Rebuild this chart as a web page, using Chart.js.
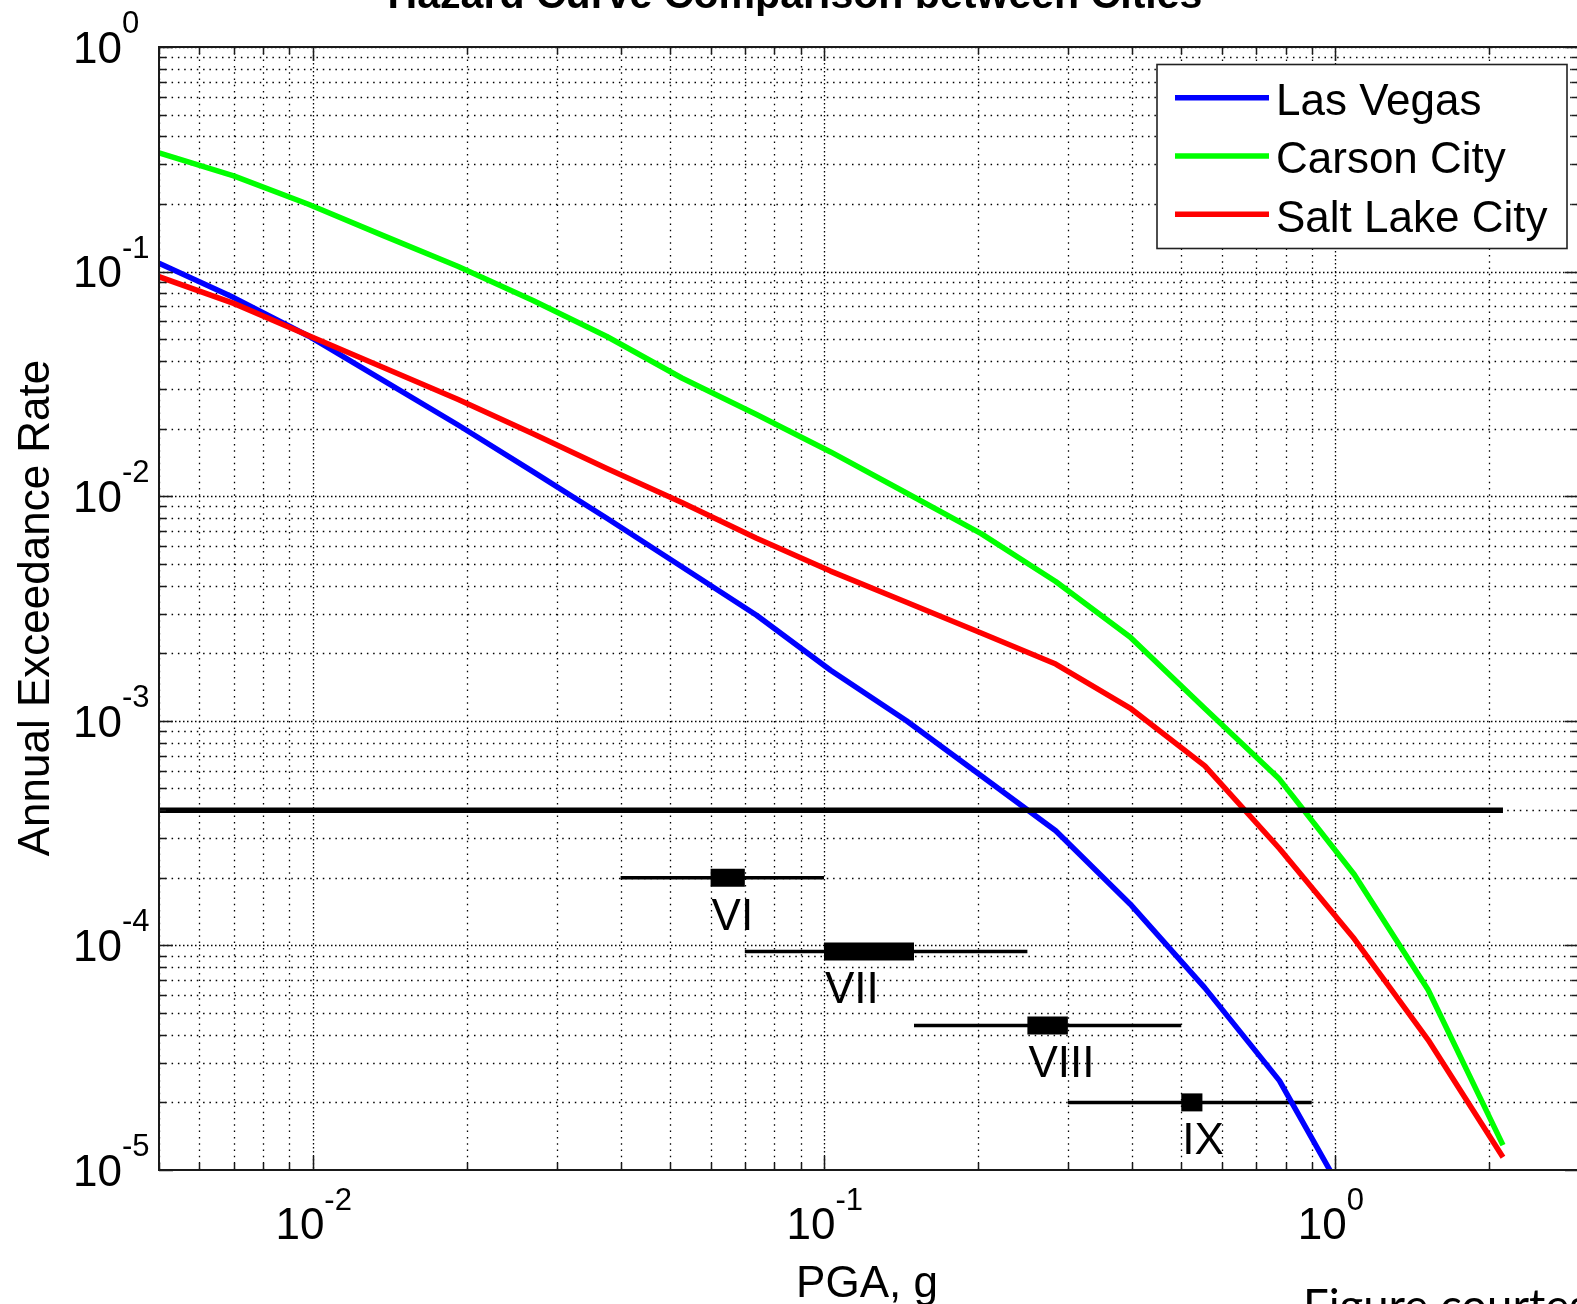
<!DOCTYPE html>
<html>
<head>
<meta charset="utf-8">
<script src="https://cdn.jsdelivr.net/npm/chart.js@4.4.1/dist/chart.umd.min.js"></script>
<style>
html,body{margin:0;padding:0;background:#fff;overflow:hidden;width:1577px;height:1304px}
#wrap{position:absolute;left:0;top:0;width:1600px;height:1304px}
canvas{display:block}
</style>
</head>
<body>
<div id="wrap"><canvas id="c" width="1600" height="1304"></canvas></div>
<script>
// ---------- texts ----------
const titleText = 'Hazard Curve Comparison between Cities';
const xAxisTitle = 'PGA, g';
const yAxisTitle = 'Annual Exceedance Rate';
const creditText = 'Figure courtesy';
const seriesNames = ['Las Vegas', 'Carson City', 'Salt Lake City'];
const seriesColors = ['#0000ff', '#00ff00', '#ff0000'];

// ---------- data ----------
const pga = [0.005, 0.007, 0.0098, 0.0137, 0.0192, 0.0269, 0.0376, 0.0527, 0.0738, 0.103,
             0.145, 0.203, 0.284, 0.397, 0.556, 0.778, 1.09, 1.52, 2.13];
const lasVegas = [0.109, 0.0766, 0.0517, 0.0329, 0.0208, 0.0129, 0.00798, 0.00485, 0.00295, 0.00168,
                  0.00100, 5.69e-4, 3.24e-4, 1.53e-4, 6.47e-5, 2.5e-5, 6.4e-6, null, null];
const carsonCity = [0.338, 0.267, 0.1995, 0.145, 0.1057, 0.0745, 0.0514, 0.0336, 0.0231, 0.01574,
                    0.01033, 0.00681, 0.00417, 0.00236, 0.001135, 5.5e-4, 2.07e-4, 6.35e-5, 1.29e-5];
const saltLakeCity = [0.0949, 0.0722, 0.0519, 0.0375, 0.0270, 0.0190, 0.01327, 0.00938, 0.0065, 0.00464,
                      0.00337, 0.00246, 0.00179, 0.00114, 6.3e-4, 2.7e-4, 1.07e-4, 3.8e-5, 1.14e-5];

const refRate = 4e-4;
const refRange = [0.005, 2.13];

const mmiLabels = ['VI', 'VII', 'VIII', 'IX'];
const mmiRate = [2e-4, 9.4e-5, 4.4e-5, 2e-5];
const mmiRangeLo = [0.04, 0.07, 0.15, 0.3];
const mmiRangeHi = [0.1, 0.25, 0.5, 0.9];
const mmiCoreLo = [0.06, 0.1, 0.25, 0.5];
const mmiCoreHi = [0.07, 0.15, 0.3, 0.55];

const xMin = 0.005, xMax = 3;
const yMin = 1e-5, yMax = 1;
const xTickExps = [-2, -1, 0];
const yTickExps = [0, -1, -2, -3, -4, -5];

// ---------- helpers ----------
function pts(xs, ys) {
  const out = [];
  for (let i = 0; i < xs.length; i++) if (ys[i] !== null) out.push({x: xs[i], y: ys[i]});
  return out;
}
function logGrid(min, max) {
  const vals = [];
  for (let e = -7; e <= 2; e++) {
    for (let k = 1; k <= 9; k++) {
      const v = k * Math.pow(10, e);
      if (v >= min * 0.99999 && v <= max * 1.00001) vals.push({v: v, major: k === 1});
    }
  }
  return vals;
}
const FONT = '"Liberation Sans", Arial, Helvetica, sans-serif';

const datasets = [];
datasets.push({
  label: 'ref', data: [{x: refRange[0], y: refRate}, {x: refRange[1], y: refRate}],
  borderColor: '#000', borderWidth: 5.5, borderCapStyle: 'butt', order: 0, clip: 0
});
const curveData = [lasVegas, carsonCity, saltLakeCity];
for (let s = 0; s < 3; s++) {
  datasets.push({
    label: seriesNames[s], data: pts(pga, curveData[s]),
    borderColor: seriesColors[s], borderWidth: 5.5, borderJoinStyle: 'round',
    order: 1 + (2 - s) * 0.1, clip: 0
  });
}
for (let i = 0; i < mmiLabels.length; i++) {
  datasets.push({
    label: mmiLabels[i] + ' range', data: [{x: mmiRangeLo[i], y: mmiRate[i]}, {x: mmiRangeHi[i], y: mmiRate[i]}],
    borderColor: '#000', borderWidth: 3.5, borderCapStyle: 'butt', order: 3, clip: 0
  });
  datasets.push({
    label: mmiLabels[i] + ' core', data: [{x: mmiCoreLo[i], y: mmiRate[i]}, {x: mmiCoreHi[i], y: mmiRate[i]}],
    borderColor: '#000', borderWidth: 18, borderCapStyle: 'butt', order: 2.5, clip: 0
  });
}

const matlabPlugin = {
  id: 'matlabLook',
  beforeDatasetsDraw(chart) {
    const {ctx, chartArea: ca, scales: {x: xs, y: ys}} = chart;
    ctx.save();
    ctx.beginPath();
    ctx.rect(ca.left, ca.top, ca.right - ca.left, ca.bottom - ca.top);
    ctx.clip();
    ctx.strokeStyle = '#000';
    ctx.lineWidth = 1.3;
    for (const t of logGrid(xMin, xMax)) {
      const p = Math.round(xs.getPixelForValue(t.v)) + 0.5;
      ctx.setLineDash(t.major ? [1.5, 2.5] : [1.5, 4.8]);
      ctx.beginPath(); ctx.moveTo(p, ca.top); ctx.lineTo(p, ca.bottom); ctx.stroke();
    }
    for (const t of logGrid(yMin, yMax)) {
      const p = Math.round(ys.getPixelForValue(t.v)) + 0.5;
      ctx.setLineDash(t.major ? [1.5, 2.5] : [1.5, 4.8]);
      ctx.beginPath(); ctx.moveTo(ca.left, p); ctx.lineTo(ca.right, p); ctx.stroke();
    }
    ctx.restore();
  },
  afterDatasetsDraw(chart) {
    const {ctx, chartArea: ca, scales: {x: xs, y: ys}} = chart;
    ctx.save();
    // MMI labels
    ctx.fillStyle = '#000';
    ctx.font = '44px ' + FONT;
    ctx.textAlign = 'left';
    ctx.textBaseline = 'alphabetic';
    for (let i = 0; i < mmiLabels.length; i++) {
      const px = xs.getPixelForValue(mmiCoreLo[i]);
      const py = ys.getPixelForValue(mmiRate[i]);
      ctx.fillText(mmiLabels[i], px + 1, py + 52);
    }
    // legend
    const lg = {l: 1157, t: 64.5, r: 1567, b: 248.5};
    ctx.fillStyle = '#fff';
    ctx.fillRect(lg.l, lg.t, lg.r - lg.l, lg.b - lg.t);
    ctx.strokeStyle = '#222';
    ctx.lineWidth = 1.6;
    ctx.setLineDash([]);
    ctx.strokeRect(lg.l, lg.t, lg.r - lg.l, lg.b - lg.t);
    const rowY = [97.7, 156, 214.3];
    for (let s = 0; s < 3; s++) {
      ctx.strokeStyle = seriesColors[s];
      ctx.lineWidth = 5.5;
      ctx.lineCap = 'butt';
      ctx.beginPath(); ctx.moveTo(1175, rowY[s]); ctx.lineTo(1269, rowY[s]); ctx.stroke();
      ctx.fillStyle = '#000';
      ctx.font = '44px ' + FONT;
      ctx.fillText(seriesNames[s], 1276, rowY[s] + 17.3);
    }
    // axes box
    ctx.strokeStyle = '#1a1a1a';
    ctx.lineWidth = 2;
    ctx.strokeRect(ca.left, ca.top, ca.right - ca.left, ca.bottom - ca.top);
    // inward ticks
    ctx.lineWidth = 1.5;
    for (const t of logGrid(xMin, xMax)) {
      const p = Math.round(xs.getPixelForValue(t.v)) + 0.5;
      const L = t.major ? 14 : 7;
      ctx.beginPath();
      ctx.moveTo(p, ca.bottom); ctx.lineTo(p, ca.bottom - L);
      ctx.moveTo(p, ca.top); ctx.lineTo(p, ca.top + L);
      ctx.stroke();
    }
    for (const t of logGrid(yMin, yMax)) {
      const p = Math.round(ys.getPixelForValue(t.v)) + 0.5;
      const L = t.major ? 14 : 7;
      ctx.beginPath();
      ctx.moveTo(ca.left, p); ctx.lineTo(ca.left + L, p);
      ctx.moveTo(ca.right, p); ctx.lineTo(ca.right - L, p);
      ctx.stroke();
    }
    ctx.restore();
  },
  afterDraw(chart) {
    const {ctx, scales: {x: xs, y: ys}} = chart;
    ctx.save();
    ctx.fillStyle = '#000';
    ctx.textBaseline = 'alphabetic';
    // x tick labels
    for (const e of xTickExps) {
      const px = xs.getPixelForValue(Math.pow(10, e));
      ctx.font = '44px ' + FONT;
      ctx.textAlign = 'right';
      ctx.fillText('10', px + 11.5, 1238.7);
      ctx.font = '31px ' + FONT;
      ctx.textAlign = 'left';
      ctx.fillText(String(e), px + 11.5, 1210);
    }
    // y tick labels
    for (const e of yTickExps) {
      const py = ys.getPixelForValue(Math.pow(10, e));
      ctx.font = '44px ' + FONT;
      ctx.textAlign = 'left';
      ctx.fillText('10', 73, py + 15.7);
      const w = ctx.measureText('10').width;
      ctx.font = '31px ' + FONT;
      ctx.fillText(String(e), 73 + w, py - 14);
    }
    // axis titles
    ctx.font = '44px ' + FONT;
    ctx.textAlign = 'center';
    ctx.fillText(xAxisTitle, 867, 1297.4);
    ctx.save();
    ctx.translate(49, 608);
    ctx.rotate(-Math.PI / 2);
    ctx.fillText(yAxisTitle, 0, 0);
    ctx.restore();
    // title (fitted to its width in the figure)
    ctx.font = 'bold 40px ' + FONT;
    const tw = ctx.measureText(titleText).width;
    const ts = 40 * 815 / tw;
    ctx.font = 'bold ' + ts.toFixed(2) + 'px ' + FONT;
    ctx.textAlign = 'center';
    ctx.fillText(titleText, 795, 8);
    // credit
    ctx.font = '40px Lato, "Open Sans", sans-serif';
    const cw = ctx.measureText('Figure courtes').width;
    const cs = 40 * 286 / cw;
    ctx.font = cs.toFixed(2) + 'px Lato, "Open Sans", sans-serif';
    ctx.textAlign = 'left';
    ctx.fillText(creditText, 1303, 1289 + 0.72 * cs);
    ctx.restore();
  }
};

new Chart(document.getElementById('c'), {
  type: 'line',
  data: {datasets: datasets},
  options: {
    responsive: false,
    animation: false,
    devicePixelRatio: 1,
    layout: {padding: {left: 159, top: 47, right: 21, bottom: 134}},
    plugins: {legend: {display: false}, title: {display: false}, tooltip: {enabled: false}},
    elements: {point: {radius: 0, hoverRadius: 0}, line: {tension: 0, fill: false}},
    events: [],
    scales: {
      x: {type: 'logarithmic', min: xMin, max: xMax, display: true,
          ticks: {display: false}, grid: {display: false, drawTicks: false}, border: {display: false}},
      y: {type: 'logarithmic', min: yMin, max: yMax, display: true,
          ticks: {display: false}, grid: {display: false, drawTicks: false}, border: {display: false}}
    }
  },
  plugins: [matlabPlugin]
});
</script>
</body>
</html>
